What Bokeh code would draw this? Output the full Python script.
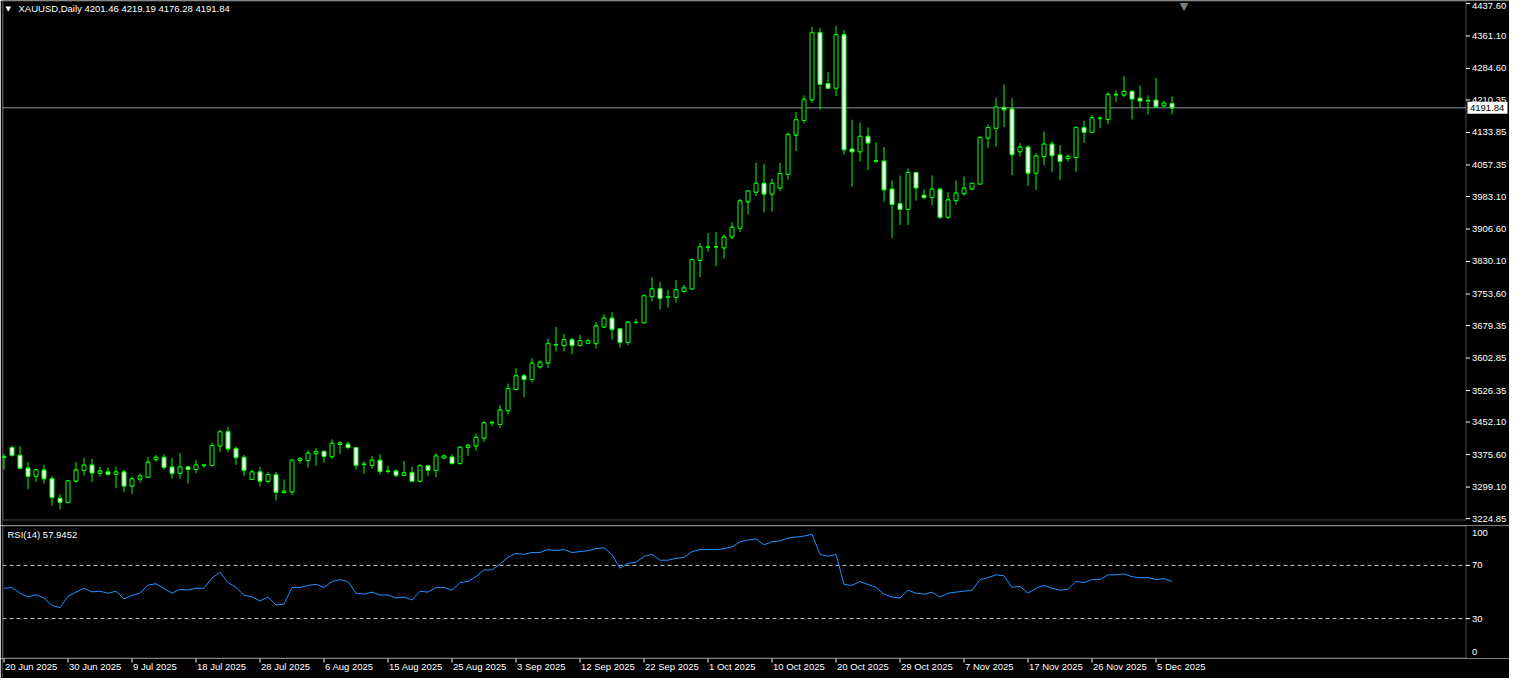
import numpy as np
from bokeh.plotting import figure
from bokeh.models import Range1d, Label, BoxAnnotation, ColumnDataSource
from bokeh.layouts import column
from bokeh.embed import file_html
from bokeh.resources import INLINE
from bokeh.core.properties import value

SYMBOL = "XAUUSD,Daily"

opens = [3368.8, 3392.2, 3373.8, 3343.9, 3324.6, 3339.3, 3318.6, 3272.6, 3263.4, 3313.1,
         3338.4, 3350.8, 3331.5, 3334.7, 3329.2, 3334.7, 3301.6, 3317.7, 3322.3, 3363.7,
         3369.2, 3346.2, 3331.5, 3346.2, 3340.7, 3349.7, 3349.9, 3395.9, 3429.1, 3390.0,
         3369.2, 3317.0, 3334.7, 3312.4, 3327.8, 3286.4, 3287.8, 3361.9, 3361.4, 3377.5,
         3383.0, 3370.6, 3399.2, 3399.8, 3392.2, 3352.2, 3349.9, 3362.3, 3336.1, 3337.0,
         3326.9, 3333.1, 3313.1, 3349.2, 3338.4, 3367.6, 3369.9, 3354.5, 3392.2, 3395.9,
         3414.3, 3450.5, 3446.5, 3478.8, 3528.7, 3560.9, 3552.4, 3582.3, 3591.5, 3633.9,
         3632.2, 3646.1, 3632.2, 3637.5, 3636.8, 3676.0, 3696.7, 3671.4, 3639.8, 3686.3,
         3685.9, 3747.3, 3765.7, 3745.7, 3745.7, 3759.5, 3765.7, 3832.4, 3864.0, 3864.6,
         3862.3, 3887.7, 3908.4, 3970.5, 3993.5, 4014.2, 3988.9, 4002.7, 4035.6, 4127.7,
         4162.2, 4210.5, 4368.6, 4248.9, 4238.1, 4364.0, 4094.7, 4088.5, 4124.7, 4066.0,
         4066.4, 4000.4, 3965.9, 3952.8, 4039.5, 3985.9, 3980.4, 4000.4, 3934.4, 3973.5,
         3989.6, 4001.1, 4012.6, 4120.7, 4143.8, 4193.0, 4189.1, 4088.5, 4099.3, 4037.9,
         4077.0, 4106.3, 4080.9, 4072.4, 4074.7, 4145.4, 4134.6, 4166.5, 4164.5, 4223.6,
         4222.0, 4230.5, 4214.4, 4208.2, 4209.8, 4196.7, 4201.46]
highs = [3376.8, 3396.9, 3395.2, 3358.4, 3341.6, 3351.5, 3324.6, 3282.5, 3315.0, 3358.4,
         3367.6, 3365.3, 3346.9, 3344.6, 3346.9, 3339.3, 3323.9, 3330.8, 3369.9, 3374.5,
         3376.8, 3367.6, 3379.1, 3349.2, 3363.0, 3351.9, 3403.8, 3434.4, 3441.3, 3394.6,
         3374.5, 3339.3, 3346.9, 3334.7, 3334.7, 3317.0, 3363.0, 3369.9, 3386.0, 3390.6,
         3386.0, 3411.4, 3407.4, 3406.1, 3393.6, 3360.0, 3372.2, 3376.8, 3349.2, 3340.7,
         3360.7, 3346.9, 3353.8, 3350.0, 3379.1, 3374.9, 3376.8, 3395.2, 3399.8, 3425.2,
         3455.1, 3453.5, 3491.9, 3542.5, 3579.3, 3565.5, 3602.3, 3597.7, 3648.4, 3676.0,
         3659.9, 3650.7, 3657.6, 3648.4, 3687.5, 3705.9, 3710.5, 3673.7, 3688.0, 3694.4,
         3751.9, 3793.3, 3781.8, 3763.4, 3786.4, 3774.9, 3837.0, 3873.9, 3896.9, 3899.2,
         3894.6, 3922.2, 3977.4, 3998.1, 4062.5, 4060.2, 4025.7, 4062.5, 4133.9, 4182.2,
         4221.3, 4382.4, 4380.1, 4276.5, 4384.7, 4375.5, 4163.8, 4156.9, 4145.4, 4110.9,
         4099.3, 4021.1, 4032.6, 4048.7, 4041.8, 4000.4, 4032.6, 4002.7, 3993.5, 4021.1,
         4030.3, 4014.5, 4124.7, 4152.3, 4214.4, 4246.6, 4214.4, 4108.6, 4104.0, 4085.5,
         4136.2, 4113.2, 4104.0, 4081.6, 4147.7, 4161.5, 4175.3, 4171.4, 4228.2, 4232.8,
         4267.3, 4232.8, 4244.3, 4221.3, 4262.7, 4207.5, 4219.19]
lows = [3340.0, 3370.6, 3341.6, 3294.0, 3310.8, 3307.8, 3255.6, 3246.4, 3260.2, 3309.4,
        3326.2, 3310.8, 3323.9, 3326.2, 3296.3, 3287.1, 3282.5, 3310.1, 3321.0, 3358.4,
        3340.0, 3319.3, 3319.3, 3307.8, 3331.5, 3344.6, 3346.9, 3381.4, 3381.4, 3351.5,
        3324.6, 3316.0, 3300.9, 3307.8, 3267.1, 3283.2, 3280.2, 3354.5, 3345.3, 3349.2,
        3356.8, 3365.3, 3377.5, 3388.3, 3340.0, 3330.8, 3342.3, 3328.5, 3330.8, 3321.6,
        3326.0, 3312.0, 3310.1, 3324.6, 3322.3, 3366.0, 3352.2, 3352.2, 3372.9, 3384.4,
        3405.1, 3442.0, 3437.4, 3469.6, 3526.4, 3510.3, 3544.8, 3577.7, 3580.0, 3618.4,
        3618.4, 3611.5, 3629.9, 3636.0, 3625.3, 3673.7, 3646.7, 3627.6, 3632.9, 3682.9,
        3685.0, 3735.8, 3717.4, 3722.0, 3733.5, 3756.5, 3763.4, 3793.3, 3853.1, 3818.6,
        3837.0, 3883.1, 3899.2, 3940.6, 3984.3, 3945.2, 3947.5, 3995.8, 4023.4, 4090.1,
        4155.3, 4203.6, 4187.5, 4235.8, 4219.7, 4081.6, 4005.7, 4065.5, 4044.8, 4063.2,
        3971.2, 3886.0, 3916.0, 3916.0, 3973.5, 3978.1, 3962.0, 3929.8, 3929.8, 3964.3,
        3985.0, 3998.8, 4012.0, 4097.7, 4100.0, 4146.1, 4033.3, 4077.0, 4008.0, 3998.8,
        4056.3, 4040.2, 4021.8, 4065.5, 4040.2, 4109.2, 4133.0, 4143.8, 4153.0, 4205.9,
        4217.4, 4164.5, 4192.1, 4176.0, 4192.1, 4194.4, 4176.28]
closes = [3371.1, 3373.8, 3343.0, 3324.6, 3340.0, 3318.6, 3274.9, 3263.4, 3314.0, 3339.3,
          3350.8, 3332.4, 3337.0, 3329.2, 3334.7, 3301.6, 3318.6, 3325.5, 3357.7, 3369.2,
          3345.3, 3331.5, 3346.2, 3340.7, 3350.8, 3350.8, 3396.9, 3429.1, 3389.0, 3368.3,
          3338.4, 3334.7, 3313.1, 3328.5, 3286.4, 3289.4, 3362.3, 3365.8, 3379.1, 3383.0,
          3371.5, 3402.1, 3402.8, 3392.2, 3349.9, 3353.1, 3362.3, 3336.1, 3336.8, 3326.9,
          3333.1, 3313.1, 3349.2, 3338.4, 3372.2, 3372.2, 3354.5, 3392.9, 3397.5, 3416.0,
          3450.5, 3451.6, 3480.4, 3531.0, 3560.9, 3552.4, 3590.8, 3593.1, 3636.8, 3634.6,
          3646.1, 3632.2, 3643.8, 3643.8, 3678.3, 3696.7, 3669.8, 3639.8, 3687.5, 3686.8,
          3749.6, 3765.7, 3743.4, 3746.6, 3763.4, 3768.0, 3834.7, 3864.6, 3864.6, 3865.3,
          3887.7, 3910.7, 3972.8, 3995.8, 4014.2, 3988.9, 4014.2, 4037.2, 4129.3, 4163.8,
          4212.1, 4368.6, 4247.3, 4238.1, 4364.0, 4093.1, 4088.5, 4124.7, 4109.2, 4067.1,
          3998.8, 3964.3, 3952.8, 4039.5, 4003.4, 3980.4, 4000.4, 3934.4, 3975.1, 3991.2,
          4002.7, 4014.2, 4122.4, 4145.4, 4193.7, 4187.5, 4081.6, 4099.3, 4037.9, 4078.6,
          4106.3, 4079.3, 4065.5, 4077.9, 4145.4, 4134.6, 4168.4, 4167.5, 4223.6, 4222.5,
          4230.5, 4212.8, 4208.2, 4209.3, 4194.4, 4202.9, 4191.84]
rsi = [52.8, 53.3, 49.1, 46.2, 47.9, 45.5, 39.9, 38.2, 46.7, 49.9,
       52.8, 50.1, 50.6, 49.1, 50.6, 44.8, 47.5, 49.1, 55.2, 56.2,
       52.8, 49.1, 52.0, 51.5, 52.8, 52.8, 60.5, 64.9, 57.1, 53.5,
       47.5, 46.4, 43.3, 46.2, 40.2, 40.9, 53.3, 53.3, 55.0, 55.7,
       53.5, 57.9, 59.3, 57.9, 49.1, 48.4, 49.9, 47.7, 47.7, 45.5,
       46.2, 44.0, 50.6, 49.9, 53.5, 53.5, 51.3, 57.1, 57.9, 61.5,
       66.6, 66.6, 71.0, 76.1, 79.0, 78.3, 79.7, 79.7, 81.9, 81.1,
       81.9, 79.7, 80.4, 81.1, 82.6, 83.3, 78.0, 67.9, 71.6, 72.4,
       76.8, 78.3, 73.9, 73.9, 75.3, 76.0, 80.4, 81.9, 81.9, 81.9,
       82.6, 84.0, 87.7, 89.1, 89.9, 85.5, 87.7, 88.4, 90.6, 91.3,
       92.0, 93.5, 78.3, 76.8, 78.3, 55.7, 55.0, 57.9, 55.7, 53.5,
       48.4, 46.2, 45.5, 51.3, 49.1, 48.4, 49.9, 46.2, 49.1, 49.9,
       50.6, 51.3, 59.3, 60.8, 62.9, 62.2, 53.5, 54.2, 49.1, 52.8,
       55.0, 52.8, 51.3, 52.0, 57.9, 57.1, 59.3, 59.3, 62.9, 62.9,
       63.6, 61.5, 60.8, 60.8, 59.3, 60.0, 57.9452]

price_ticks = [4437.60, 4361.10, 4284.60, 4210.35, 4133.85, 4057.35, 3983.10, 3906.60,
               3830.10, 3753.60, 3679.35, 3602.85, 3526.35, 3452.10, 3375.60, 3299.10, 3224.85]
rsi_levels = [70, 30]
rsi_scale_labels = [100, 70, 30, 0]
date_labels = ["20 Jun 2025", "30 Jun 2025", "9 Jul 2025", "18 Jul 2025", "28 Jul 2025",
               "6 Aug 2025", "15 Aug 2025", "25 Aug 2025", "3 Sep 2025", "12 Sep 2025",
               "22 Sep 2025", "1 Oct 2025", "10 Oct 2025", "20 Oct 2025", "29 Oct 2025",
               "7 Nov 2025", "17 Nov 2025", "26 Nov 2025", "5 Dec 2025"]
date_bars = [0, 8, 16, 24, 32, 40, 48, 56, 64, 72, 80, 88, 96, 104, 112, 120, 128, 136, 144]

# ---------------- styling / layout (pixels) ----------------
FONT = "Liberation Sans"
FS = "9.5px"
GREEN = "#00ff00"
W = 1509
LEFT = 2
FRAME_W = W - LEFT
BAR_PX = 8.0
X0 = -1.5 / BAR_PX                  # first bar 1.5 px inside the frame
xr = Range1d(X0, X0 + FRAME_W / BAR_PX)
AXIS_PX = 1463.5                    # scale border, px from frame left
AX = X0 + AXIS_PX / BAR_PX          # same border in bar units
def px(d):                          # horizontal pixel distance in bar units
    return d / BAR_PX

# main panel vertical geometry
Y_TOP, Y_BOX_BOTTOM = 4444.5, 3220.4
BOX_H = 520
GAP = 5
PPX = (Y_TOP - Y_BOX_BOTTOM) / BOX_H
# RSI panel
RSI_H = 133
RPX = 100.0 / RSI_H
DATE_H = 20

o = np.array(opens); h = np.array(highs); l = np.array(lows); c = np.array(closes)
n = len(c)
idx = np.arange(n)
fills = np.where(c >= o, "black", "white")


def base_fig(height, yr):
    f = figure(width=W, height=height, x_range=xr, y_range=yr, output_backend="svg",
               toolbar_location=None, x_axis_location=None, y_axis_location=None,
               min_border_left=LEFT, min_border_right=0, min_border_top=0,
               min_border_bottom=0, background_fill_color="black",
               border_fill_color="black", outline_line_color=None)
    f.grid.grid_line_color = None
    return f


# ---------------- main price panel ----------------
p1 = base_fig(BOX_H + GAP, Range1d(Y_BOX_BOTTOM - GAP * PPX, Y_TOP))
p1.add_layout(BoxAnnotation(left=X0 + px(0.5), right=AX, top=Y_TOP - 0.5 * PPX,
                            bottom=Y_BOX_BOTTOM + 0.5 * PPX, fill_color=None,
                            line_color="white", line_width=1))
p1.segment(x0=[X0], y0=[closes[-1]], x1=[AX], y1=[closes[-1]],
           line_color="#8c96a0", line_width=1)
p1.segment(x0=idx, y0=l, x1=idx, y1=h, line_color=GREEN, line_width=1)
p1.segment(x0=idx - 0.25, y0=o, x1=idx + 0.25, y1=o, line_color=GREEN, line_width=1)
p1.segment(x0=idx - 0.25, y0=c, x1=idx + 0.25, y1=c, line_color=GREEN, line_width=1)
p1.vbar(x=idx, width=0.5, top=np.maximum(o, c), bottom=np.minimum(o, c),
        fill_color=fills, line_color=GREEN, line_width=1)

# price scale (drawn by hand so that it can hold the price box)
pt = np.array(price_ticks)
ps = ColumnDataSource(dict(
    x0=np.full(len(pt), AX), x1=np.full(len(pt), AX + px(4)), xt=np.full(len(pt), AX + px(6)),
    y=pt, t=[f"{v:.2f}" for v in price_ticks],
    off=[3 if v == pt.max() else 0 for v in price_ticks]))
p1.segment(x0="x0", y0="y", x1="x1", y1="y", source=ps, line_color="white", line_width=1)
p1.text(x="xt", y="y", text="t", y_offset="off", source=ps, text_align="left",
        text_baseline="middle", text_color="white", text_font=value(FONT),
        text_font_size=FS)
p1.rect(x=[AX + px(21.5)], y=[closes[-1]], width=40, height=12,
        width_units="screen", height_units="screen", fill_color="white", line_color=None)
p1.text(x=[AX + px(4)], y=[closes[-1]], text=[f"{closes[-1]:.2f}"], text_align="left",
        text_baseline="middle", text_color="black", text_font=value(FONT),
        text_font_size=FS)

p1.add_layout(Label(x=X0, y=Y_TOP, x_offset=3, y_offset=-8, text="\u25bc",
                    text_baseline="middle", text_color="white", text_font="DejaVu Sans",
                    text_font_size="7px"))
p1.add_layout(Label(x=X0, y=Y_TOP, x_offset=16, y_offset=-8,
                    text=f"{SYMBOL}  {opens[-1]:.2f} {highs[-1]:.2f} {lows[-1]:.2f} {closes[-1]:.2f}",
                    text_baseline="middle", text_color="white", text_font=FONT,
                    text_font_size=FS))
p1.add_layout(Label(x=n + 0.5, y=Y_TOP, y_offset=1, text="\u25bc", text_align="center",
                    text_baseline="top", text_color="#808080", text_font="DejaVu Sans",
                    text_font_size="11px"))

# ---------------- RSI panel ----------------
p2 = base_fig(RSI_H, Range1d(0, 100))
p2.add_layout(BoxAnnotation(left=X0 + px(0.5), right=AX, top=100 - 0.5 * RPX,
                            bottom=0.5 * RPX, fill_color=None, line_color="white",
                            line_width=1))
lv = np.array(rsi_levels)
p2.segment(x0=np.full(len(lv), X0), y0=lv, x1=np.full(len(lv), AX), y1=lv,
           line_color="#c8c8c8", line_dash="4 3", line_width=1)
p2.segment(x0=np.full(len(lv), AX), y0=lv, x1=np.full(len(lv), AX + px(4)), y1=lv,
           line_color="white", line_width=1)
p2.line(x=idx, y=rsi, line_color="#1e90ff", line_width=1)
rs = ColumnDataSource(dict(
    x=np.full(len(rsi_scale_labels), AX + px(6)),
    y=rsi_scale_labels,
    t=[str(v) for v in rsi_scale_labels],
    off=[7 if v == 100 else (-7 if v == 0 else 0) for v in rsi_scale_labels]))
p2.text(x="x", y="y", text="t", y_offset="off", source=rs, text_align="left",
        text_baseline="middle", text_color="white", text_font=value(FONT),
        text_font_size=FS)
p2.add_layout(Label(x=X0, y=100, x_offset=5, y_offset=-9,
                    text=f"RSI(14) {rsi[-1]:.4f}", text_baseline="middle",
                    text_color="white", text_font=FONT, text_font_size=FS))

# ---------------- date strip ----------------
p3 = base_fig(DATE_H, Range1d(0, DATE_H))
p3.segment(x0=date_bars, y0=DATE_H, x1=date_bars, y1=DATE_H - 4, line_color="white",
           line_width=1)
p3.text(x=date_bars, y=DATE_H - 8, text=date_labels, text_align="left",
        text_baseline="middle", text_color="white", text_font=value(FONT),
        text_font_size=FS, x_offset=1)

layout = column(p1, p2, p3, spacing=0)
open("out.html", "w").write(file_html(layout, INLINE))
